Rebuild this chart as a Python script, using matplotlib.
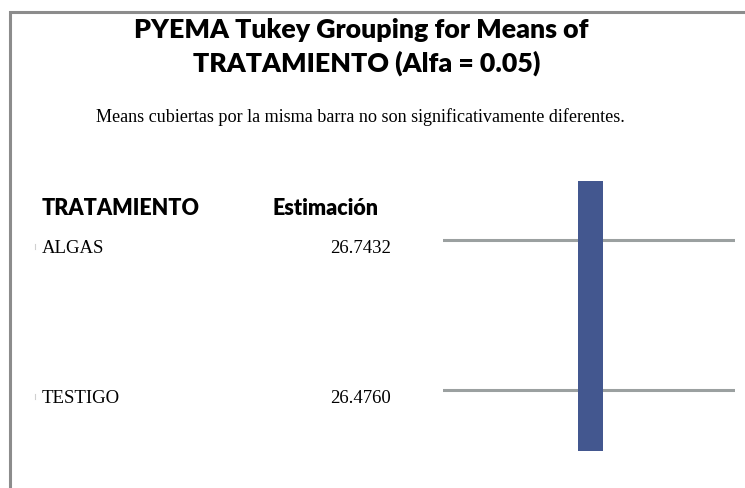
import matplotlib.pyplot as plt
from matplotlib.patches import Rectangle

# data
tratamientos = ["ALGAS", "TESTIGO"]
estimaciones = [26.7432, 26.4760]
grupo_barra = [0, 1]   # rows covered by the same bar (first, last)

W, H = 745, 488
fig = plt.figure(figsize=(W / 100, H / 100), dpi=100)

def fx(px): return px / W
def fy(py): return 1 - py / H

# frame (left + top only visible)
fig.add_artist(Rectangle((fx(10), fy(500)), fx(760), fy(12) - fy(500),
                         transform=fig.transFigure, fill=False,
                         edgecolor="#8c8c8c", linewidth=2.2))

title_font = ["Lato", "DejaVu Sans"]
fig.text(fx(361), fy(38), "PYEMA Tukey Grouping for Means of", ha="center", va="baseline",
         fontsize=19.3, fontweight="heavy", family=title_font)
fig.text(fx(367), fy(72), "TRATAMIENTO (Alfa = 0.05)", ha="center", va="baseline",
         fontsize=19.3, fontweight="heavy", family=title_font)
fig.text(fx(360), fy(122), "Means cubiertas por la misma barra no son significativamente diferentes.",
         ha="center", va="baseline", fontsize=13.1, family="Liberation Serif")

# table headers
fig.text(fx(42), fy(215), "TRATAMIENTO", ha="left", va="baseline",
         fontsize=15.5, fontweight="heavy", family=title_font)
fig.text(fx(378), fy(215), "Estimación", ha="right", va="baseline",
         fontsize=15.5, fontweight="heavy", family=title_font)

# right-hand axes with lines and grouping bar
ax = fig.add_axes([fx(443), fy(488), fx(735) - fx(443), fy(170) - fy(488)])
n = len(tratamientos)
row_px = 150
top_y = 240
# y limits chosen so rows land at the picture's pixel rows
ax.set_ylim((488 - top_y) / row_px, (170 - top_y) / row_px)
ax.set_xlim(0, 1)
ax.axis("off")

for i, (t, e) in enumerate(zip(tratamientos, estimaciones)):
    ax.axhline(i, color="#9ba0a0", linewidth=2.2, zorder=1)
    ypx = top_y + i * row_px + 13
    fig.text(fx(42), fy(ypx), t, ha="left", va="baseline", fontsize=13.5,
             family="Liberation Serif")
    fig.text(fx(391), fy(ypx), f"{e:.4f}", ha="right", va="baseline", fontsize=13.5,
             family="Liberation Serif")
    # faint tick mark left of each label
    fig.add_artist(plt.Line2D([fx(35), fx(35)], [fy(ypx - 9), fy(ypx - 4)],
                              color="#d0d0d0", linewidth=0.8))

bar_w = 25 / (735 - 443)
ax.bar(0.505, grupo_barra[1] - grupo_barra[0] + 0.80, bottom=grupo_barra[0] - 0.393,
       width=bar_w, color="#43578f", zorder=2)

fig.savefig("out.png", dpi=100)
